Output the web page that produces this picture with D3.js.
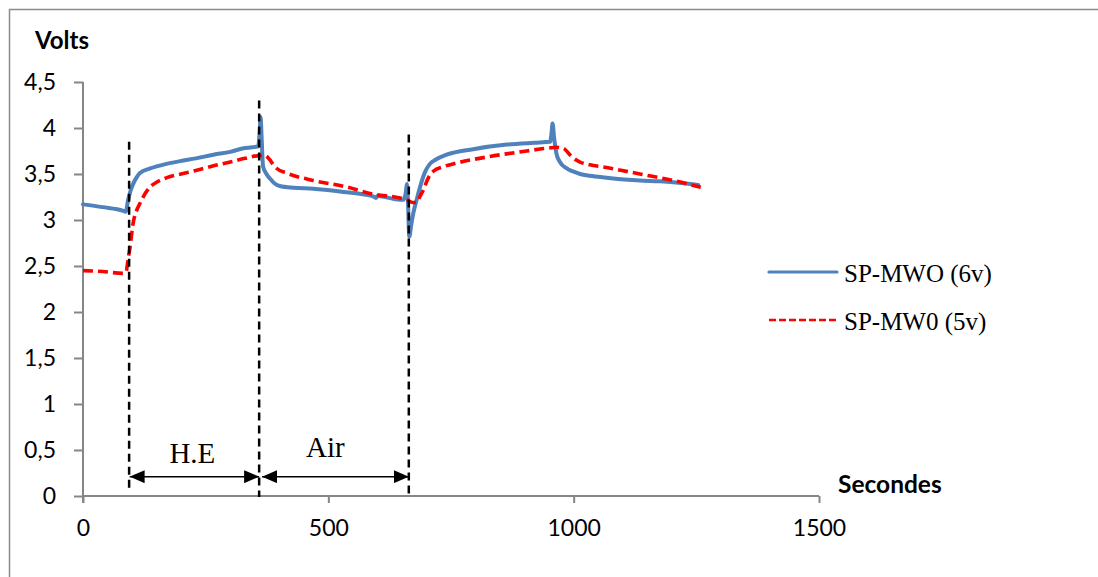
<!DOCTYPE html>
<html><head><meta charset="utf-8">
<script src="https://cdn.jsdelivr.net/npm/d3@7"></script>
<style>body{margin:0;background:#fff}svg{display:block}</style>
</head><body>
<svg id="c" width="1098" height="577"></svg>
<script>
// ---- data ----
const blueT = [0,40,82,87,92,97,102,109,116,137,170,198,230,266,300,327,345,357,360,362,364,367,374,381,390,401,430,469,524,590,597,600,646,653,658,660,662,665,669,673,680,687,697,707,720,741,795,864,920,952,955,957,960,965,972,986,1000,1013,1033,1067,1135,1176,1254];
const blueV = [3.17,3.14,3.10,3.09,3.22,3.32,3.39,3.46,3.51,3.56,3.61,3.64,3.67,3.71,3.74,3.78,3.79,3.80,3.95,4.12,3.90,3.58,3.50,3.45,3.40,3.37,3.35,3.34,3.31,3.26,3.24,3.26,3.22,3.22,3.30,3.39,3.25,2.82,2.95,3.07,3.22,3.36,3.52,3.61,3.66,3.71,3.77,3.82,3.84,3.85,3.95,4.05,3.90,3.72,3.63,3.56,3.525,3.50,3.48,3.46,3.43,3.42,3.38];
const redT = [0,40,82,88,92,96,102,109,116,127,137,150,171,200,232,266,300,330,361,371,380,388,395,415,469,537,592,646,660,672,680,687,694,703,714,735,762,829,904,945,965,979,992,1006,1013,1033,1067,1135,1203,1259];
const redV = [2.45,2.44,2.42,2.44,2.58,2.71,2.96,3.10,3.18,3.29,3.36,3.41,3.46,3.50,3.54,3.59,3.63,3.67,3.70,3.70,3.66,3.60,3.56,3.51,3.43,3.36,3.28,3.24,3.22,3.19,3.19,3.26,3.33,3.45,3.53,3.58,3.62,3.69,3.75,3.78,3.79,3.78,3.71,3.65,3.63,3.60,3.57,3.50,3.43,3.355];
const seriesNames = ["SP-MWO (6v)", "SP-MW0 (5v)"];
const xTicks = [0,500,1000,1500];
const yTicks = [0,0.5,1,1.5,2,2.5,3,3.5,4,4.5];
const yTickLabels = ["0","0,5","1","1,5","2","2,5","3","3,5","4","4,5"];
// phase markers (seconds) with dashed-line extents (volts)
const markerT = [94, 359, 664];
const markerTop = [3.85, 4.30, 3.93];
const markerBottom = [0.07, -0.01, 0];
const phaseLabels = ["H.E", "Air"];

// ---- layout ----
const svg = d3.select("#c");
const x = d3.scaleLinear().domain([0,1500]).range([83,819]);
const y = d3.scaleLinear().domain([0,4.5]).range([496,82]);
const axisCol = "#868686";
const sans = "Lato, 'Open Sans', sans-serif";
const serif = "'Liberation Serif','Times New Roman',serif";

svg.append("rect").attr("x",9.5).attr("y",9.5).attr("width",1200).attr("height",700)
  .attr("fill","none").attr("stroke","#8c8c8c").attr("stroke-width",1.5);

// y axis
const yAx = svg.append("g").attr("transform","translate(83,0)")
  .call(d3.axisLeft(y).tickValues(yTicks).tickSize(9).tickPadding(18).tickFormat((d,i)=>yTickLabels[i]));
yAx.select(".domain").attr("stroke",axisCol).attr("stroke-width",2).attr("d","M0,82V503");
yAx.selectAll(".tick line").attr("stroke",axisCol).attr("stroke-width",2);
yAx.selectAll("text").attr("font-family",sans).attr("font-size",23).attr("fill","#000");

// x axis
const xAx = svg.append("g").attr("transform","translate(0,496)")
  .call(d3.axisBottom(x).tickValues(xTicks).tickSize(7).tickPadding(17).tickFormat(d3.format("d")));
xAx.select(".domain").attr("stroke",axisCol).attr("stroke-width",2).attr("d","M83,0H819");
xAx.selectAll(".tick line").attr("stroke",axisCol).attr("stroke-width",2);
xAx.selectAll("text").attr("font-family",sans).attr("font-size",23).attr("fill","#000");

svg.append("text").attr("x",35).attr("y",49).text("Volts")
  .attr("font-family",sans).attr("font-weight","bold").attr("font-size",24);
svg.append("text").attr("x",838).attr("y",493).text("Secondes")
  .attr("font-family",sans).attr("font-weight","bold").attr("font-size",24.5);

// lines
const line = d3.line().x(d=>x(d[0])).y(d=>y(d[1])).curve(d3.curveMonotoneX);
const blue = blueT.map((t,i)=>[t,blueV[i]]);
const red = redT.map((t,i)=>[t,redV[i]]);
svg.append("path").datum(blue).attr("d",line).attr("fill","none")
  .attr("stroke","#4f81bd").attr("stroke-width",4).attr("stroke-linejoin","round").attr("stroke-linecap","round");
svg.append("path").datum(red).attr("d",line).attr("fill","none")
  .attr("stroke","#ff0000").attr("stroke-width",3.6).attr("stroke-dasharray","10,5");

// dashed markers
markerT.forEach((t,i)=>{
  svg.append("line").attr("x1",x(t)).attr("x2",x(t)).attr("y1",y(markerTop[i])).attr("y2",y(markerBottom[i]))
    .attr("stroke","#000").attr("stroke-width",2.5).attr("stroke-dasharray","8,5");
});

// arrows
const defs = svg.append("defs");
defs.append("marker").attr("id","ah").attr("viewBox","0 0 15 13").attr("refX",15).attr("refY",6.5)
  .attr("markerWidth",15).attr("markerHeight",13).attr("markerUnits","userSpaceOnUse").attr("orient","auto-start-reverse")
  .append("path").attr("d","M0,0L15,6.5L0,13Z").attr("fill","#000");
const arrowY = y(0.21);
const arrowSpans = [[markerT[0]+1, markerT[1]], [markerT[1]+6, markerT[2]]];
arrowSpans.forEach((s,i)=>{
  svg.append("line").attr("x1",x(s[0])).attr("x2",x(s[1])).attr("y1",arrowY).attr("y2",arrowY)
    .attr("stroke","#000").attr("stroke-width",1.6)
    .attr("marker-start","url(#ah)").attr("marker-end","url(#ah)");
});
svg.append("text").attr("x",(x(arrowSpans[0][0])+x(arrowSpans[0][1]))/2-2).attr("y",463).attr("text-anchor","middle")
  .text(phaseLabels[0]).attr("font-family",serif).attr("font-size",29);
svg.append("text").attr("x",(x(arrowSpans[1][0])+x(arrowSpans[1][1]))/2-10).attr("y",457).attr("text-anchor","middle")
  .text(phaseLabels[1]).attr("font-family",serif).attr("font-size",29);

// legend
const leg = svg.append("g");
[[272,"#4f81bd",3.2,null],[320,"#ff0000",2.6,"7,3"]].forEach((d,i)=>{
  const l = leg.append("line").attr("x1",769).attr("x2",837).attr("y1",d[0]).attr("y2",d[0])
    .attr("stroke",d[1]).attr("stroke-width",d[2]).attr("stroke-linecap",i===0?"round":"butt");
  if(d[3]) l.attr("stroke-dasharray",d[3]);
  leg.append("text").attr("x",844).attr("y",d[0]+10).text(seriesNames[i])
    .attr("font-family",serif).attr("font-size",25);
});
</script>
</body></html>
